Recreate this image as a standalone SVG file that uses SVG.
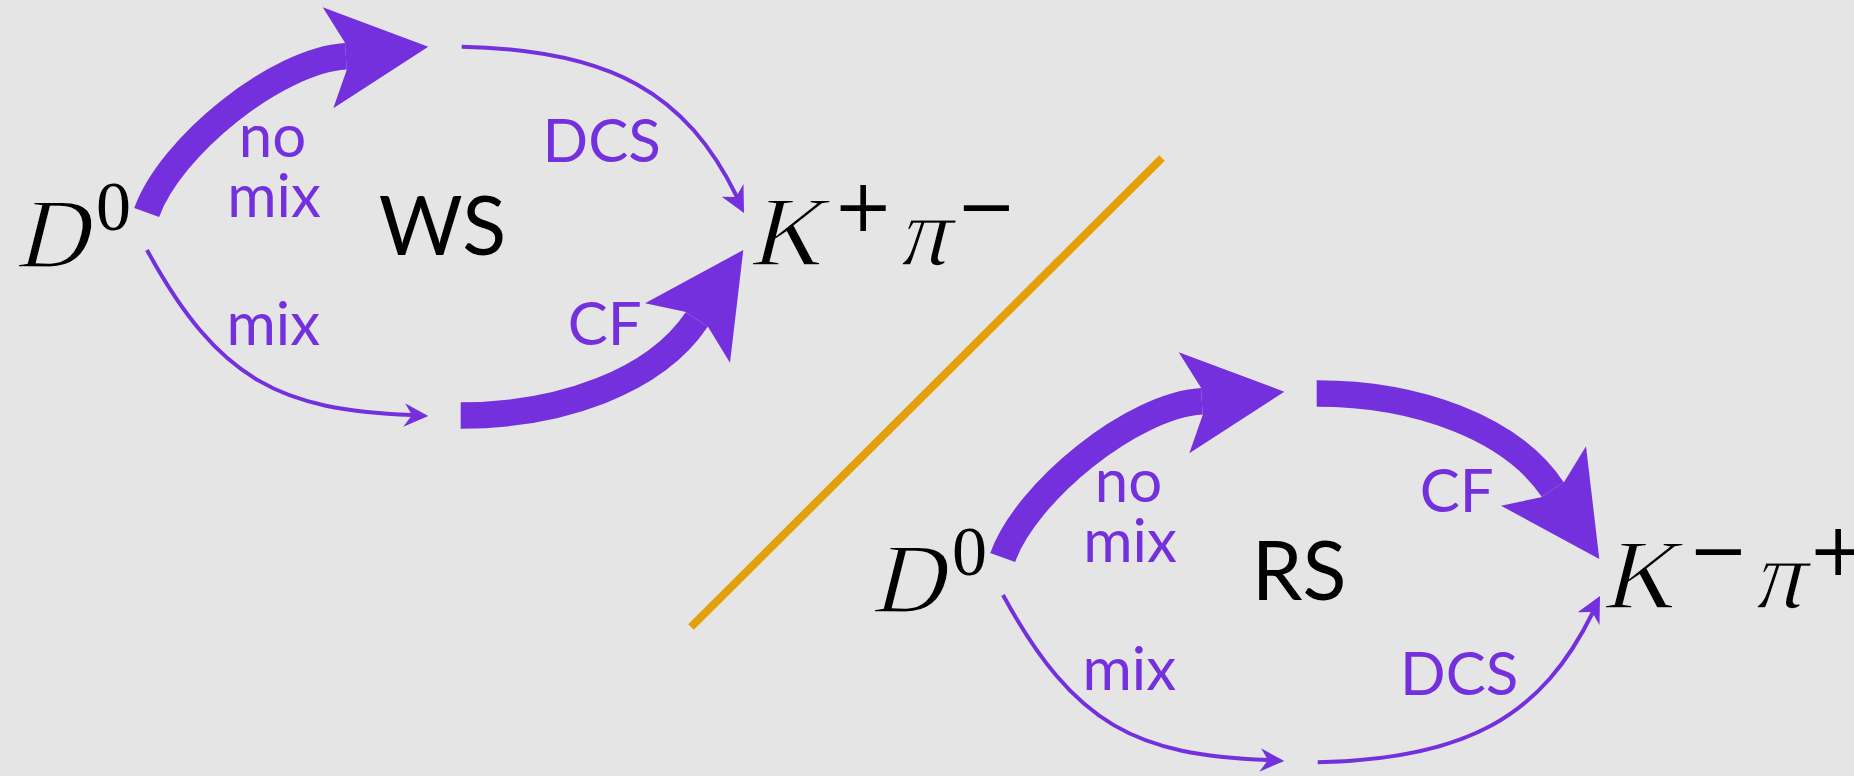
<svg xmlns="http://www.w3.org/2000/svg" xmlns:xlink="http://www.w3.org/1999/xlink" width="1854" height="776" viewBox="0 0 1854 776">
  <defs>
    <style>
      .thick{fill:none;stroke:#7530DD;stroke-width:26.5;stroke-linecap:butt}
      .thin{fill:none;stroke:#7530DD;stroke-width:4;stroke-linecap:butt}
      .head{fill:#7530DD}
      .lbl{font-family:Lato,"Open Sans",sans-serif;font-size:60px;fill:#7530DD;text-anchor:middle}
      .big{font-family:Lato,"Open Sans",sans-serif;font-size:81px;fill:#000;text-anchor:middle}
      .math{font-family:"Liberation Serif",serif;font-size:99px;fill:#000;stroke:#E5E5E5;stroke-width:1.6}
      .sup{font-family:"Liberation Serif",serif;font-size:70px;fill:#000}
      .op{font-family:"DejaVu Serif",serif;font-size:72px;fill:#000}
    </style>
    <g id="arrNoMix">
      <path class="thick" d="M146.7,212.5 C170.4,146.7 276,60.6 345.9,56.3"/>
      <polygon class="head" points="322.7,7.3 428.3,46.7 333.3,108.3 346.7,70 345,42.7"/>
    </g>
    <g id="arrMix">
      <path class="thin" d="M147,250 C219,382 282,410 412,415"/>
      <polygon class="head" points="428.3,416 405,403.3 412,415 403.3,426.7"/>
    </g>
    <g id="arrUpperRight">
      <path class="thin" d="M461.7,46.7 C611.7,49.7 686.4,93.5 737,197"/>
      <polygon class="head" points="744,213 721.7,196.7 736,197 743.5,184"/>
    </g>
    <g id="arrLowerRight">
      <path class="thick" d="M460.7,415.5 C560,415.5 655,381.8 696.7,319.5"/>
      <polygon class="head" points="645,303.3 743.3,250 730,362.7 708.3,327.3 685,311.7"/>
    </g>
  </defs>

  <rect width="1854" height="776" fill="#E5E5E5"/>

  <g id="divider">
    <line x1="691" y1="627" x2="1162" y2="158" stroke="#E3A008" stroke-width="8"/>
  </g>

  <g id="connectors">
    <use xlink:href="#arrNoMix"/>
    <use xlink:href="#arrMix"/>
    <use xlink:href="#arrUpperRight"/>
    <use xlink:href="#arrLowerRight"/>
    <use xlink:href="#arrNoMix" transform="translate(856,345)"/>
    <use xlink:href="#arrMix" transform="translate(856,345)"/>
    <use xlink:href="#arrLowerRight" transform="matrix(1 0 0 -1 856 809)"/>
    <use xlink:href="#arrUpperRight" transform="matrix(1 0 0 -1 856 809)"/>
  </g>

  <g id="connector-labels">
    <text class="lbl" x="272.5" y="156.7">no</text>
    <text class="lbl" x="274" y="216.7">mix</text>
    <text class="lbl" x="273.3" y="345">mix</text>
    <text class="lbl" x="601.7" y="161.7">DCS</text>
    <text class="lbl" x="604.7" y="345">CF</text>
    <text class="lbl" x="1128.5" y="501.7">no</text>
    <text class="lbl" x="1130" y="561.7">mix</text>
    <text class="lbl" x="1129.3" y="690">mix</text>
    <text class="lbl" x="1456.7" y="511.7">CF</text>
    <text class="lbl" x="1459.2" y="695">DCS</text>
  </g>

  <g id="node-D0-WS">
    <text class="math" transform="translate(15,267) skewX(-14)">D</text>
    <text class="sup" x="96" y="230">0</text>
  </g>
  <g id="node-Kpi-WS">
    <text class="math" transform="translate(749,265) skewX(-14)">K</text>
    <text class="op" x="833" y="231">+</text>
    <text class="math" transform="translate(897,265) skewX(-14)">π</text>
    <text class="op" x="956" y="231">−</text>
  </g>
  <g id="label-WS">
    <text class="big" x="442.5" y="255">WS</text>
  </g>

  <g id="node-D0-RS">
    <text class="math" transform="translate(871,612) skewX(-14)">D</text>
    <text class="sup" x="952" y="575">0</text>
  </g>
  <g id="node-Kpi-RS">
    <text class="math" transform="translate(1602,608.3) skewX(-14)">K</text>
    <text class="op" x="1688" y="574.5">−</text>
    <text class="math" transform="translate(1752,608.3) skewX(-14)">π</text>
    <text class="op" x="1808" y="574.5">+</text>
  </g>
  <g id="label-RS">
    <text class="big" x="1299" y="600">RS</text>
  </g>
</svg>
